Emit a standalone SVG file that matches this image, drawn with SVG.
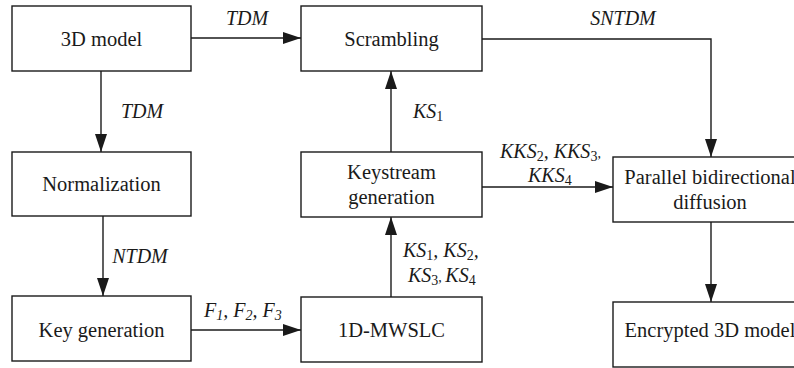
<svg xmlns="http://www.w3.org/2000/svg" width="794" height="368" viewBox="0 0 794 368">
<style>
.box{fill:#fff;stroke:#1a1a1a;stroke-width:1.4}
.t{font-family:'Liberation Serif','Times New Roman','DejaVu Serif',serif;font-size:20.5px;fill:#1a1a1a;text-anchor:middle}
.l{font-family:'Liberation Serif','Times New Roman','DejaVu Serif',serif;font-size:20px;fill:#1a1a1a;font-style:italic}
.s{font-style:normal;font-size:14px}
.si{font-size:14px}
.c{fill:none;stroke:#1a1a1a;stroke-width:1.4}
</style>
<defs>
<marker id="a" markerUnits="userSpaceOnUse" markerWidth="18" markerHeight="12" refX="18" refY="6" orient="auto">
<path d="M0,0 L18,6 L0,12 Z" fill="#1a1a1a"/>
</marker>
</defs>
<rect width="794" height="368" fill="#fff"/>
<g id="connectors">
<path class="c" d="M191,38 H301" marker-end="url(#a)"/>
<path class="c" d="M101,71 V152" marker-end="url(#a)"/>
<path class="c" d="M103,216 V296" marker-end="url(#a)"/>
<path class="c" d="M191,330 H301" marker-end="url(#a)"/>
<path class="c" d="M391,297 V217" marker-end="url(#a)"/>
<path class="c" d="M391,152 V71" marker-end="url(#a)"/>
<path class="c" d="M482,39 H711 V157" marker-end="url(#a)"/>
<path class="c" d="M482,187 H613" marker-end="url(#a)"/>
<path class="c" d="M711,222 V302" marker-end="url(#a)"/>
<text class="l" x="247" y="25" text-anchor="middle">TDM</text>
<text class="l" x="142" y="118" text-anchor="middle">TDM</text>
<text class="l" x="623" y="25" text-anchor="middle">SNTDM</text>
<text class="l" x="413" y="118">KS<tspan class="s" dy="3">1</tspan></text>
<text class="l" x="140" y="263" text-anchor="middle">NTDM</text>
<text class="l" x="204" y="317">F<tspan class="si" dy="3">1</tspan><tspan dy="-3">, F</tspan><tspan class="si" dy="3">2</tspan><tspan dy="-3">, F</tspan><tspan class="si" dy="3">3</tspan></text>
<text class="l" x="500" y="158">KKS<tspan class="s" dy="3">2</tspan><tspan dy="-3">, KKS</tspan><tspan class="s" dy="3">3</tspan><tspan class="s" dy="-3">,</tspan></text>
<text class="l" x="528" y="182">KKS<tspan class="s" dy="3">4</tspan></text>
<text class="l" x="403" y="257">KS<tspan class="s" dy="3">1</tspan><tspan dy="-3">, KS</tspan><tspan class="s" dy="3">2</tspan><tspan dy="-3">,</tspan></text>
<text class="l" x="408" y="282">KS<tspan class="s" dy="3">3</tspan><tspan class="s" dy="-3">, </tspan><tspan>KS</tspan><tspan class="s" dy="3">4</tspan></text>
</g>
<g id="model3d"><rect class="box" x="12" y="6" width="179" height="65"/><text class="t" x="101.5" y="46">3D model</text></g>
<g id="scrambling"><rect class="box" x="301" y="6" width="181" height="65"/><text class="t" x="391.5" y="46">Scrambling</text></g>
<g id="normalization"><rect class="box" x="12" y="152" width="179" height="64"/><text class="t" x="101.5" y="191">Normalization</text></g>
<g id="keygen"><rect class="box" x="12" y="296" width="179" height="65"/><text class="t" x="101.5" y="337">Key generation</text></g>
<g id="keystream"><rect class="box" x="301" y="152" width="181" height="65"/><text class="t" x="391.5" y="179">Keystream</text><text class="t" x="391.5" y="204">generation</text></g>
<g id="mwslc"><rect class="box" x="301" y="297" width="181" height="65"/><text class="t" x="391.5" y="337">1D-MWSLC</text></g>
<g id="diffusion"><rect class="box" x="613" y="157" width="194" height="65"/><text class="t" x="710" y="184">Parallel bidirectional</text><text class="t" x="710" y="209">diffusion</text></g>
<g id="encrypted"><rect class="box" x="613" y="302" width="194" height="65"/><text class="t" x="710" y="337">Encrypted 3D model</text></g>
</svg>
